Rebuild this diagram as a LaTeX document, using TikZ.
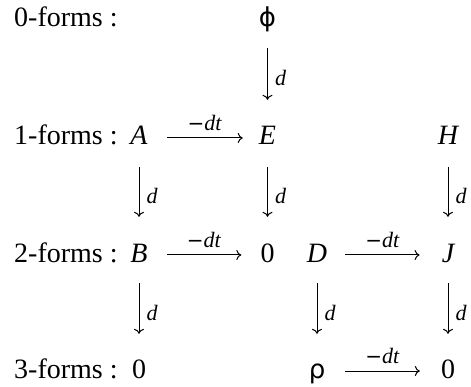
\documentclass[tikz,border=0pt]{standalone}
\usepackage{fontspec}
\setmainfont{Liberation Serif}
\newfontfamily\grk{DejaVu Sans}
\usetikzlibrary{arrows.meta}
\begin{document}
\begin{tikzpicture}[x=1pt,y=-1pt,
  obj/.style={inner sep=0pt, text height=19pt, text depth=5pt, anchor=base, font=\fontsize{28}{34}\selectfont},
  lbl/.style={inner sep=0pt, anchor=base west, font=\fontsize{28}{34}\selectfont},
  arr/.style={-{To[length=5pt,width=10pt]}, line width=1pt},
  dl/.style={font=\fontsize{22}{26}\selectfont\itshape, inner sep=0pt, anchor=west, xshift=7pt, yshift=-4pt},
  tl/.style={font=\fontsize{22}{26}\selectfont, inner sep=0pt, anchor=south, yshift=7pt}
]
\useasboundingbox (0,0) rectangle (471,387);
% row labels
\node[lbl] (l0) at (14,27) {0-forms :};
\node[lbl] (l1) at (14,145) {1-forms :};
\node[lbl] (l2) at (14,262) {2-forms :};
\node[lbl] (l3) at (14,378) {3-forms :};
% objects
\node[obj] (phi) at (267.5,27) {\grk\fontsize{26}{30}\selectfont ϕ};
\node[obj] (A) at (139,145) {\itshape A};
\node[obj] (E) at (267.5,145) {\itshape E};
\node[obj] (H) at (448,145) {\itshape H};
\node[obj] (B) at (139,262) {\itshape B};
\node[obj] (z2) at (267.5,262) {0};
\node[obj] (D) at (317,262) {\itshape D};
\node[obj] (J) at (448,262) {\itshape J};
\node[obj] (z3) at (139,378) {0};
\node[obj] (rho) at (317,378) {\grk\fontsize{26}{30}\selectfont ρ};
\node[obj] (z4) at (448,378) {0};
% vertical arrows
\draw[arr] ([yshift=-16pt]phi.south) -- ([yshift=26pt]E.north) node[midway, dl] {d};
\draw[arr] ([yshift=-17pt]A.south) -- ([yshift=26pt]B.north) node[midway, dl] {d};
\draw[arr] ([yshift=-17pt]E.south) -- ([yshift=26pt]z2.north) node[midway, dl] {d};
\draw[arr] ([yshift=-17pt]H.south) -- ([yshift=26pt]J.north) node[midway, dl] {d};
\draw[arr] ([yshift=-16pt]B.south) -- ([yshift=25pt]z3.north) node[midway, dl] {d};
\draw[arr] ([yshift=-16pt]D.south) -- ([yshift=25pt]rho.north) node[midway, dl] {d};
\draw[arr] ([yshift=-16pt]J.south) -- ([yshift=25pt]z4.north) node[midway, dl] {d};
% horizontal arrows
\draw[arr] ([xshift=19pt]A.east) -- ([xshift=-16pt]E.west) node[midway, tl] {{\grk\fontsize{20}{24}\selectfont −}\textit{dt}};
\draw[arr] ([xshift=19pt]B.east) -- ([xshift=-19pt]z2.west) node[midway, tl] {{\grk\fontsize{20}{24}\selectfont −}\textit{dt}};
\draw[arr] ([xshift=18pt]D.east) -- ([xshift=-22pt]J.west) node[midway, tl] {{\grk\fontsize{20}{24}\selectfont −}\textit{dt}};
\draw[arr] ([xshift=20pt]rho.east) -- ([xshift=-21pt]z4.west) node[midway, tl] {{\grk\fontsize{20}{24}\selectfont −}\textit{dt}};
\end{tikzpicture}
\end{document}
